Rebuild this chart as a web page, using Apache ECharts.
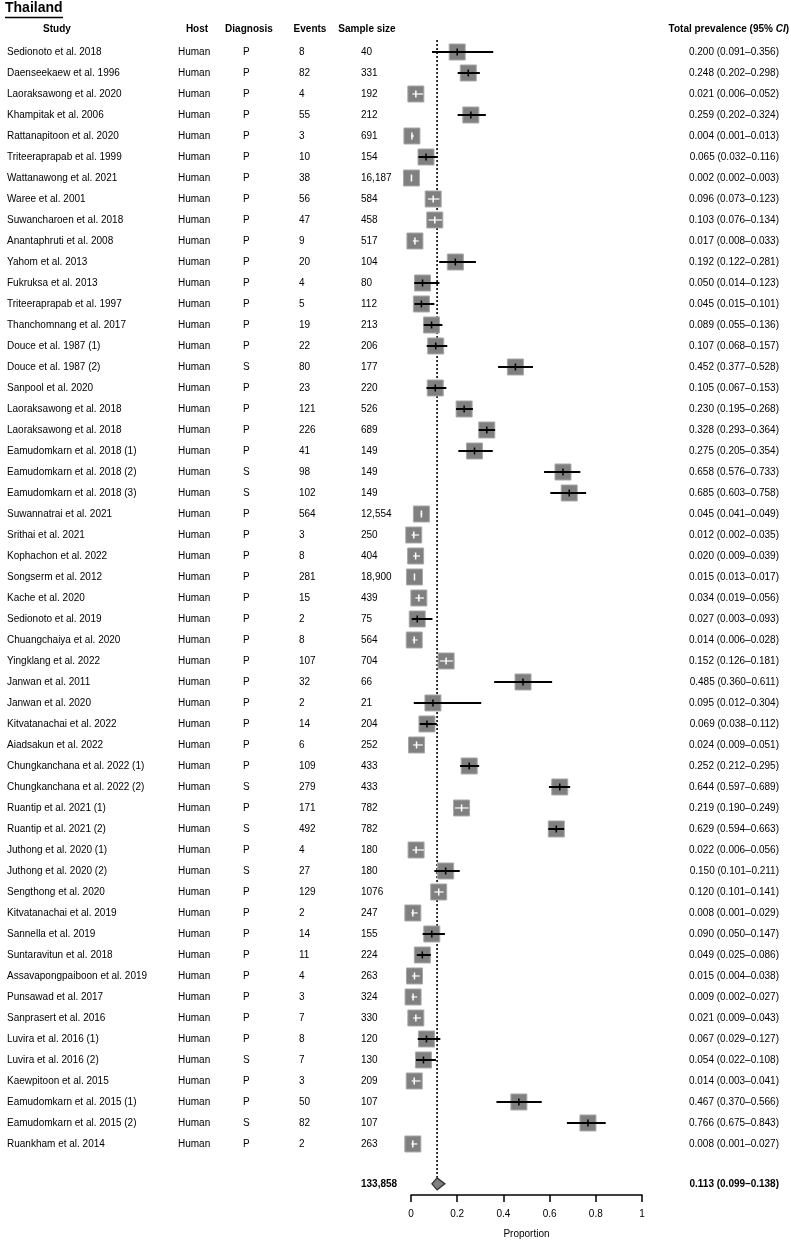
<!DOCTYPE html>
<html><head><meta charset="utf-8">
<script src="https://cdn.jsdelivr.net/npm/echarts@6/dist/echarts.min.js"></script>
<style>html,body{margin:0;padding:0;background:#fff}#c{width:791px;height:1240px}</style>
</head><body><div id="c"></div>
<script>
const studies = ["Sedionoto et al. 2018","Daenseekaew et al. 1996","Laoraksawong et al. 2020","Khampitak et al. 2006","Rattanapitoon et al. 2020","Triteeraprapab et al. 1999","Wattanawong et al. 2021","Waree et al. 2001","Suwancharoen et al. 2018","Anantaphruti et al. 2008","Yahom et al. 2013","Fukruksa et al. 2013","Triteeraprapab et al. 1997","Thanchomnang et al. 2017","Douce et al. 1987 (1)","Douce et al. 1987 (2)","Sanpool et al. 2020","Laoraksawong et al. 2018","Laoraksawong et al. 2018","Eamudomkarn et al. 2018 (1)","Eamudomkarn et al. 2018 (2)","Eamudomkarn et al. 2018 (3)","Suwannatrai et al. 2021","Srithai et al. 2021","Kophachon et al. 2022","Songserm et al. 2012","Kache et al. 2020","Sedionoto et al. 2019","Chuangchaiya et al. 2020","Yingklang et al. 2022","Janwan et al. 2011","Janwan et al. 2020","Kitvatanachai et al. 2022","Aiadsakun et al. 2022","Chungkanchana et al. 2022 (1)","Chungkanchana et al. 2022 (2)","Ruantip et al. 2021 (1)","Ruantip et al. 2021 (2)","Juthong et al. 2020 (1)","Juthong et al. 2020 (2)","Sengthong et al. 2020","Kitvatanachai et al. 2019","Sannella et al. 2019","Suntaravitun et al. 2018","Assavapongpaiboon et al. 2019","Punsawad et al. 2017","Sanprasert et al. 2016","Luvira et al. 2016 (1)","Luvira et al. 2016 (2)","Kaewpitoon et al. 2015","Eamudomkarn et al. 2015 (1)","Eamudomkarn et al. 2015 (2)","Ruankham et al. 2014"];
const hosts = studies.map(() => "Human");
const diagnosis = ["P","P","P","P","P","P","P","P","P","P","P","P","P","P","P","S","P","P","P","P","S","S","P","P","P","P","P","P","P","P","P","P","P","P","P","S","P","S","P","S","P","P","P","P","P","P","P","P","S","P","P","S","P"];
const events = [8,82,4,55,3,10,38,56,47,9,20,4,5,19,22,80,23,121,226,41,98,102,564,3,8,281,15,2,8,107,32,2,14,6,109,279,171,492,4,27,129,2,14,11,4,3,7,8,7,3,50,82,2];
const sampleSizes = ["40","331","192","212","691","154","16,187","584","458","517","104","80","112","213","206","177","220","526","689","149","149","149","12,554","250","404","18,900","439","75","564","704","66","21","204","252","433","433","782","782","180","180","1076","247","155","224","263","324","330","120","130","209","107","107","263"];
const estimates = [0.200,0.248,0.021,0.259,0.004,0.065,0.002,0.096,0.103,0.017,0.192,0.050,0.045,0.089,0.107,0.452,0.105,0.230,0.328,0.275,0.658,0.685,0.045,0.012,0.020,0.015,0.034,0.027,0.014,0.152,0.485,0.095,0.069,0.024,0.252,0.644,0.219,0.629,0.022,0.150,0.120,0.008,0.090,0.049,0.015,0.009,0.021,0.067,0.054,0.014,0.467,0.766,0.008];
const lower = [0.091,0.202,0.006,0.202,0.001,0.032,0.002,0.073,0.076,0.008,0.122,0.014,0.015,0.055,0.068,0.377,0.067,0.195,0.293,0.205,0.576,0.603,0.041,0.002,0.009,0.013,0.019,0.003,0.006,0.126,0.360,0.012,0.038,0.009,0.212,0.597,0.190,0.594,0.006,0.101,0.101,0.001,0.050,0.025,0.004,0.002,0.009,0.029,0.022,0.003,0.370,0.675,0.001];
const upper = [0.356,0.298,0.052,0.324,0.013,0.116,0.003,0.123,0.134,0.033,0.281,0.123,0.101,0.136,0.157,0.528,0.153,0.268,0.364,0.354,0.733,0.758,0.049,0.035,0.039,0.017,0.056,0.093,0.028,0.181,0.611,0.304,0.112,0.051,0.295,0.689,0.249,0.663,0.056,0.211,0.141,0.029,0.147,0.086,0.038,0.027,0.043,0.127,0.108,0.041,0.566,0.843,0.027];
const totalSample = "133,858";
const pooledEstimate = 0.113;
const pooledLower = 0.099;
const pooledUpper = 0.138;
const xTickValues = [0, 0.2, 0.4, 0.6, 0.8, 1];
const xTickLabels = ["0", "0.2", "0.4", "0.6", "0.8", "1"];
const headers = ["Study", "Host", "Diagnosis", "Events", "Sample size"];

const FONT = '"Liberation Sans", Arial, sans-serif';
const fmt = v => v.toFixed(3);
const ciText = i => fmt(estimates[i]) + " (" + fmt(lower[i]) + "\u2013" + fmt(upper[i]) + ")";
const summaryRow = 53.9;

function txt(x, y, s, align, bold) {
  return { type: 'text', style: { x: x, y: y, text: String(s), align: align, verticalAlign: 'middle',
    font: (bold ? 'bold ' : '') + '10px ' + FONT, fill: '#000' } };
}
function head(x, s) {
  return { type: 'text', style: { x: x, y: 29, text: s, align: 'center', verticalAlign: 'middle', font: 'bold 10px ' + FONT, fill: '#000' } };
}

const chart = echarts.init(document.getElementById('c'), null, { renderer: 'canvas' });
chart.setOption({
  animation: false,
  backgroundColor: '#fff',
  title: { text: 'Thailand', left: 5, top: 1, padding: 0, textStyle: { fontFamily: FONT, fontSize: 14, fontWeight: 'bold', color: '#000' } },
  graphic: [
    { type: 'line', shape: { x1: 5, y1: 17.5, x2: 63, y2: 17.5 }, style: { stroke: '#000', lineWidth: 1.5 } },
    head(57, headers[0]), head(197, headers[1]), head(249, headers[2]), head(310, headers[3]), head(367, headers[4]),
    { type: 'text', style: { x: 789, y: 29, text: '{b|Total prevalence (95% }{i|CI}{b|)}', align: 'right', verticalAlign: 'middle',
      rich: { b: { fontFamily: FONT, fontSize: 10, fontWeight: 'bold', fill: '#000' }, i: { fontFamily: FONT, fontSize: 10, fontWeight: 'bold', fontStyle: 'italic', fill: '#000' } } } }
  ],
  grid: { left: 411, width: 231, top: 52, bottom: 45, containLabel: false, outerBoundsMode: 'none' },
  xAxis: {
    type: 'value', min: 0, max: 1, interval: 0.2, position: 'bottom',
    axisLine: { show: true, onZero: false, lineStyle: { color: '#000', width: 1.5 } },
    axisTick: { show: true, inside: false, length: 7, lineStyle: { color: '#000', width: 1.5 } },
    axisLabel: { color: '#000', fontFamily: FONT, fontSize: 10, margin: 14,
      formatter: v => { const k = xTickValues.findIndex(t => Math.abs(t - v) < 1e-9); return k >= 0 ? xTickLabels[k] : ''; } },
    splitLine: { show: false },
    name: 'Proportion', nameLocation: 'middle', nameGap: 34,
    nameTextStyle: { color: '#000', fontFamily: FONT, fontSize: 10 }
  },
  yAxis: { type: 'value', min: 0, max: 54.43, inverse: true, show: false },
  series: [
    {
      type: 'custom', name: 'columns', silent: true, clip: false,
      data: studies.map((s, i) => [0, i]),
      encode: { x: 0, y: 1 },
      renderItem: (params, api) => {
        const i = params.dataIndex;
        const y = api.coord([0, api.value(1)])[1];
        return { type: 'group', children: [
          txt(7, y, studies[i], 'left'),
          txt(178, y, hosts[i], 'left'),
          txt(243, y, diagnosis[i], 'left'),
          txt(299, y, events[i], 'left'),
          txt(361, y, sampleSizes[i], 'left'),
          txt(779, y, ciText(i), 'right')
        ] };
      }
    },
    {
      type: 'custom', name: 'reference', silent: true, clip: false,
      data: [[pooledEstimate, -0.57, summaryRow]],
      encode: { x: 0, y: 1 },
      renderItem: (params, api) => {
        const a = api.coord([api.value(0), api.value(1)]);
        const b = api.coord([api.value(0), api.value(2)]);
        return { type: 'line', shape: { x1: a[0], y1: a[1], x2: b[0], y2: b[1] - 6 },
          style: { stroke: '#000', lineWidth: 1.6, lineDash: [2, 2] } };
      }
    },
    {
      type: 'custom', name: 'studies', silent: true, clip: false,
      data: estimates.map((e, i) => [e, i, lower[i], upper[i]]),
      encode: { x: 0, y: 1 },
      renderItem: (params, api) => {
        const c = api.coord([api.value(0), api.value(1)]);
        const lo = api.coord([api.value(2), api.value(1)])[0];
        const hi = api.coord([api.value(3), api.value(1)])[0];
        const h = 8;
        const inside = lo >= c[0] - h - 0.01 && hi <= c[0] + h + 0.01;
        const col = inside ? '#fff' : '#000';
        return { type: 'group', children: [
          { type: 'rect', shape: { x: c[0] - h, y: c[1] - h, width: 2 * h, height: 2 * h },
            style: { fill: '#808080', stroke: '#a8a8a8', lineWidth: 1 } },
          { type: 'line', shape: { x1: lo, y1: c[1], x2: hi, y2: c[1] }, style: { stroke: col, lineWidth: inside ? 1.2 : 2 } },
          { type: 'line', shape: { x1: c[0], y1: c[1] - 3.5, x2: c[0], y2: c[1] + 3.5 }, style: { stroke: col, lineWidth: 1.5 } }
        ] };
      }
    },
    {
      type: 'custom', name: 'summary', silent: true, clip: false,
      data: [[pooledEstimate, summaryRow, pooledLower, pooledUpper]],
      encode: { x: 0, y: 1 },
      renderItem: (params, api) => {
        const c = api.coord([api.value(0), api.value(1)]);
        const lo = api.coord([api.value(2), api.value(1)])[0];
        const hi = api.coord([api.value(3), api.value(1)])[0];
        return { type: 'group', children: [
          { type: 'polygon', shape: { points: [[lo - 2, c[1]], [c[0], c[1] - 6], [hi + 2, c[1]], [c[0], c[1] + 6]] },
            style: { fill: '#808080', stroke: '#333', lineWidth: 1.3 } },
          txt(361, c[1], totalSample, 'left', true),
          txt(779, c[1], fmt(api.value(0)) + " (" + fmt(api.value(2)) + "\u2013" + fmt(api.value(3)) + ")", 'right', true)
        ] };
      }
    }
  ]
});
</script></body></html>
